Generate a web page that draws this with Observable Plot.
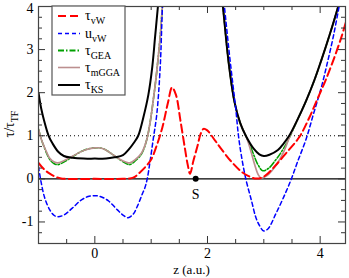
<!DOCTYPE html>
<html><head><meta charset="utf-8">
<script src="https://cdn.jsdelivr.net/npm/d3@7"></script>
<script src="https://cdn.jsdelivr.net/npm/@observablehq/plot@0.6"></script>
<style>
body{margin:0;background:#fff;}
#wrap{position:relative;width:349px;height:278px;font-family:"Liberation Serif","Times New Roman",Times,"DejaVu Serif",serif;}
#wrap svg{position:absolute;left:0;top:0;}
#wrap svg text{font-family:"Liberation Serif","Times New Roman",Times,"DejaVu Serif",serif;}
</style></head><body><div id="wrap"></div>
<script>
// tau_KS
const zKS = [-1.0,-0.95,-0.9,-0.82,-0.75,-0.65,-0.55,-0.4,-0.2,0,0.2,0.35,0.5,0.6,0.7,0.77,0.86,0.95,1.02,1.07,1.12,1.16,1.7,2.2,2.27,2.38,2.48,2.58,2.68,2.82,2.92,3.0,3.1,3.25,3.35,3.45,3.6,3.75,3.9,4.02,4.17,4.32,4.4];
const vKS = [2.0,1.62,1.35,1.0,0.82,0.63,0.53,0.49,0.47,0.47,0.47,0.5,0.55,0.68,0.85,1.0,1.42,1.95,2.6,3.3,4.0,4.6,null,4.9,4.05,2.65,1.78,1.3,1.0,0.7,0.57,0.53,0.56,0.67,0.82,1.0,1.38,1.81,2.3,2.75,3.35,4.0,4.4];
// tau_mGGA
const zM = [-1.0,-0.95,-0.9,-0.86,-0.8,-0.72,-0.66,-0.55,-0.39,-0.2,0,0.15,0.3,0.45,0.55,0.62,0.72,0.83,0.92,0.98,1.04,1.1,1.16,1.2,1.24,1.7,2.2,2.27,2.38,2.48,2.58,2.68,2.73,2.78,2.84,2.9,2.95,3.05,3.15,3.25,3.35,3.45,3.5,3.6,3.75,3.9,4.02,4.17,4.32,4.4];
const vM = [1.15,0.92,0.75,0.63,0.48,0.39,0.37,0.42,0.53,0.66,0.72,0.7,0.58,0.45,0.39,0.37,0.45,0.6,0.9,1.3,1.85,2.5,3.3,4.0,4.6,null,4.9,4.05,2.65,1.78,1.3,1.0,0.82,0.6,0.32,0.1,0.02,0.07,0.2,0.38,0.62,0.95,1.1,1.38,1.81,2.3,2.75,3.35,4.0,4.4];
// tau_GEA
const zG = [-1.0,-0.95,-0.9,-0.86,-0.8,-0.72,-0.66,-0.55,-0.39,-0.2,0,0.15,0.3,0.45,0.55,0.62,0.72,0.83,0.92,0.98,1.04,1.1,1.16,1.2,1.24,1.7,2.2,2.27,2.38,2.48,2.58,2.68,2.75,2.82,2.9,2.98,3.08,3.2,3.3,3.4,3.47,3.6,3.75,3.9,4.02,4.17,4.32,4.4];
const vG = [1.15,0.92,0.74,0.61,0.45,0.35,0.33,0.39,0.52,0.66,0.72,0.7,0.58,0.44,0.36,0.33,0.42,0.58,0.9,1.3,1.85,2.5,3.3,4.0,4.6,null,4.9,4.05,2.65,1.78,1.3,1.0,0.8,0.56,0.32,0.19,0.24,0.42,0.6,0.82,1.0,1.38,1.81,2.3,2.75,3.35,4.0,4.4];
// tau_vW
const zR = [-1.0,-0.9,-0.8,-0.7,-0.6,-0.5,0,0.5,0.62,0.7,0.8,0.9,1.0,1.1,1.2,1.3,1.37,1.44,1.52,1.6,1.65,1.69,1.75,1.82,1.88,1.93,1.99,2.14,2.23,2.41,2.6,2.72,2.84,2.95,3.05,3.2,3.43,3.63,3.8,3.96,4.1,4.25,4.38,4.46];
const vR = [0.37,0.22,0.12,0.05,0.01,0,0,0,0.01,0.04,0.15,0.28,0.45,0.78,1.2,1.78,2.12,1.95,1.35,0.7,0.32,0.12,0.42,0.75,1.05,1.16,1.13,0.88,0.72,0.42,0.17,0.07,0.01,0.02,0.1,0.3,0.65,0.97,1.4,1.88,2.3,2.81,3.3,3.65];
// u_vW
const zB = [-1.0,-0.95,-0.89,-0.8,-0.72,-0.66,-0.55,-0.4,-0.25,-0.12,0,0.12,0.25,0.4,0.5,0.59,0.68,0.76,0.84,0.89,0.93,0.98,1.04,1.1,1.16,1.2,1.23,1.7,2.25,2.3,2.38,2.45,2.5,2.55,2.6,2.68,2.78,2.86,2.93,3.0,3.08,3.21,3.35,3.48,3.6,3.75,3.88,4.02,4.12,4.23,4.33,4.4];
const vB = [0.28,-0.1,-0.44,-0.72,-0.85,-0.88,-0.84,-0.68,-0.5,-0.41,-0.39,-0.42,-0.52,-0.72,-0.84,-0.9,-0.82,-0.62,-0.36,-0.2,0,0.4,0.95,1.5,2.58,4.0,4.8,null,4.6,4.0,3.0,2.2,1.65,1.0,0.55,0.0,-0.5,-0.9,-1.1,-1.21,-1.15,-0.82,-0.43,-0.03,0.4,0.92,1.5,2.12,2.65,3.28,3.95,4.4];

const pointS = {z: 1.79, v: 0, label: "S"};
const xTickLabels = [0, 2, 4];
const xMinorTicks = [-0.5,0.5,1,1.5,2.5,3,3.5];
const yTickLabels = [-1, 0, 1, 2, 3, 4];
const yMinorTicks = [-1.25,-0.75,-0.5,-0.25,0.25,0.5,0.75,1.25,1.5,1.75,2.25,2.5,2.75,3.25,3.5,3.75];
const legendItems = [
  {main: "τ", sub: "vW", stroke: "#ff0000", dash: "8,4", w: 2},
  {main: "u", sub: "vW", stroke: "#0000ff", dash: "4,3", w: 1.5},
  {main: "τ", sub: "GEA", stroke: "#00a000", dash: "6,2,1.5,2", w: 2},
  {main: "τ", sub: "mGGA", stroke: "#bc8f8f", dash: null, w: 1.6},
  {main: "τ", sub: "KS", stroke: "#000000", dash: null, w: 2}
];

const FONT = "'Liberation Serif','Times New Roman',Times,'DejaVu Serif',serif";
const toRows = (zs, vs) => zs.map((z, i) => ({z, v: vs[i]}));
const W = 349, H = 278, mL = 38, mR = 4, mT = 6, mB = 35;
const fw = W - mL - mR, fh = H - mT - mB;
const lineOpts = (stroke, w, dash) => ({x: "z", y: "v", stroke, strokeWidth: w, strokeDasharray: dash, curve: "catmull-rom", clip: true});

const plot = Plot.plot({
  width: W, height: H, marginLeft: mL, marginRight: mR, marginTop: mT, marginBottom: mB,
  style: {fontFamily: FONT, fontSize: "14px", background: "white", color: "black"},
  x: {domain: [-1, 4.45]},
  y: {domain: [-1.5, 4]},
  marks: [
    Plot.ruleY([1], {stroke: "black", strokeWidth: 1.2, strokeDasharray: "1,3"}),
    Plot.ruleY([0], {stroke: "black", strokeWidth: 1.3}),
    Plot.line(toRows(zG, vG), lineOpts("#00a000", 1.6, "6,2,1.5,2")),
    Plot.line(toRows(zM, vM), lineOpts("#bc8f8f", 1.7, null)),
    Plot.line(toRows(zKS, vKS), lineOpts("#000000", 2, null)),
    Plot.line(toRows(zB, vB), lineOpts("#0000ff", 1.5, "4,3")),
    Plot.line(toRows(zR, vR), lineOpts("#ff0000", 2, "8,4")),
    Plot.dot([pointS], {x: "z", y: "v", r: 3, fill: "black"}),
    Plot.text([pointS], {x: "z", y: "v", text: "label", dy: 16, fontSize: 14, fontFamily: FONT}),
    // inward ticks
    Plot.tickX(xMinorTicks, {x: d => d, stroke: "#333", insetTop: fh - 4}),
    Plot.tickX(xTickLabels, {x: d => d, stroke: "#333", insetTop: fh - 7}),
    Plot.tickX(xMinorTicks, {x: d => d, stroke: "#333", insetBottom: fh - 4}),
    Plot.tickX(xTickLabels, {x: d => d, stroke: "#333", insetBottom: fh - 7}),
    Plot.tickY(yMinorTicks, {y: d => d, stroke: "#333", insetRight: fw - 4}),
    Plot.tickY(yTickLabels, {y: d => d, stroke: "#333", insetRight: fw - 7}),
    Plot.tickY(yMinorTicks, {y: d => d, stroke: "#333", insetLeft: fw - 4}),
    Plot.tickY(yTickLabels, {y: d => d, stroke: "#333", insetLeft: fw - 7}),
    Plot.frame({stroke: "#444", strokeWidth: 1.2}),
    Plot.axisX(xTickLabels, {tickSize: 0, tickPadding: 5, label: null, fontSize: 14, fontFamily: FONT, tickFormat: d => String(d)}),
    Plot.axisY(yTickLabels.filter(d => d < 4), {tickSize: 0, tickPadding: 5, label: null, fontSize: 14, fontFamily: FONT, tickFormat: d => String(d)}),
    Plot.axisY(yTickLabels.filter(d => d === 4), {tickSize: 0, tickPadding: 5, label: null, fontSize: 14, fontFamily: FONT, dy: 2, tickFormat: d => String(d)})
  ]
});
const wrap = document.getElementById("wrap");
wrap.appendChild(plot);

// overlay: legend and axis titles
const svg = d3.select(wrap).append("svg").attr("width", W).attr("height", H);
const lx0 = 52, lx1 = 125, ly0 = 6, ly1 = 95;
svg.append("rect").attr("x", lx0).attr("y", ly0).attr("width", lx1 - lx0).attr("height", ly1 - ly0)
  .attr("fill", "white").attr("stroke", "#555").attr("stroke-width", 1.2);
const rowY = [16, 33.5, 50.5, 67.5, 85];
legendItems.forEach((it, i) => {
  const y = rowY[i];
  svg.append("line").attr("x1", 58).attr("x2", 80).attr("y1", y).attr("y2", y)
    .attr("stroke", it.stroke).attr("stroke-width", it.w).attr("stroke-dasharray", it.dash);
  const t = svg.append("text").attr("x", 85).attr("y", y + 4).attr("font-size", 14).attr("font-family", FONT);
  t.append("tspan").text(it.main);
  t.append("tspan").attr("dy", 4).attr("font-size", 10).text(it.sub);
});
// y title
const yt = svg.append("text").attr("transform", "translate(14,124) rotate(-90)")
  .attr("text-anchor", "middle").attr("font-size", 14).attr("font-family", FONT);
yt.append("tspan").text("τ/τ");
yt.append("tspan").attr("dy", 4).attr("font-size", 10).text("TF");
// x title
svg.append("text").attr("x", (mL + W - mR) / 2).attr("y", 274).attr("text-anchor", "middle")
  .attr("font-size", 13).attr("font-family", FONT).text("z (a.u.)");
</script>
</body></html>
